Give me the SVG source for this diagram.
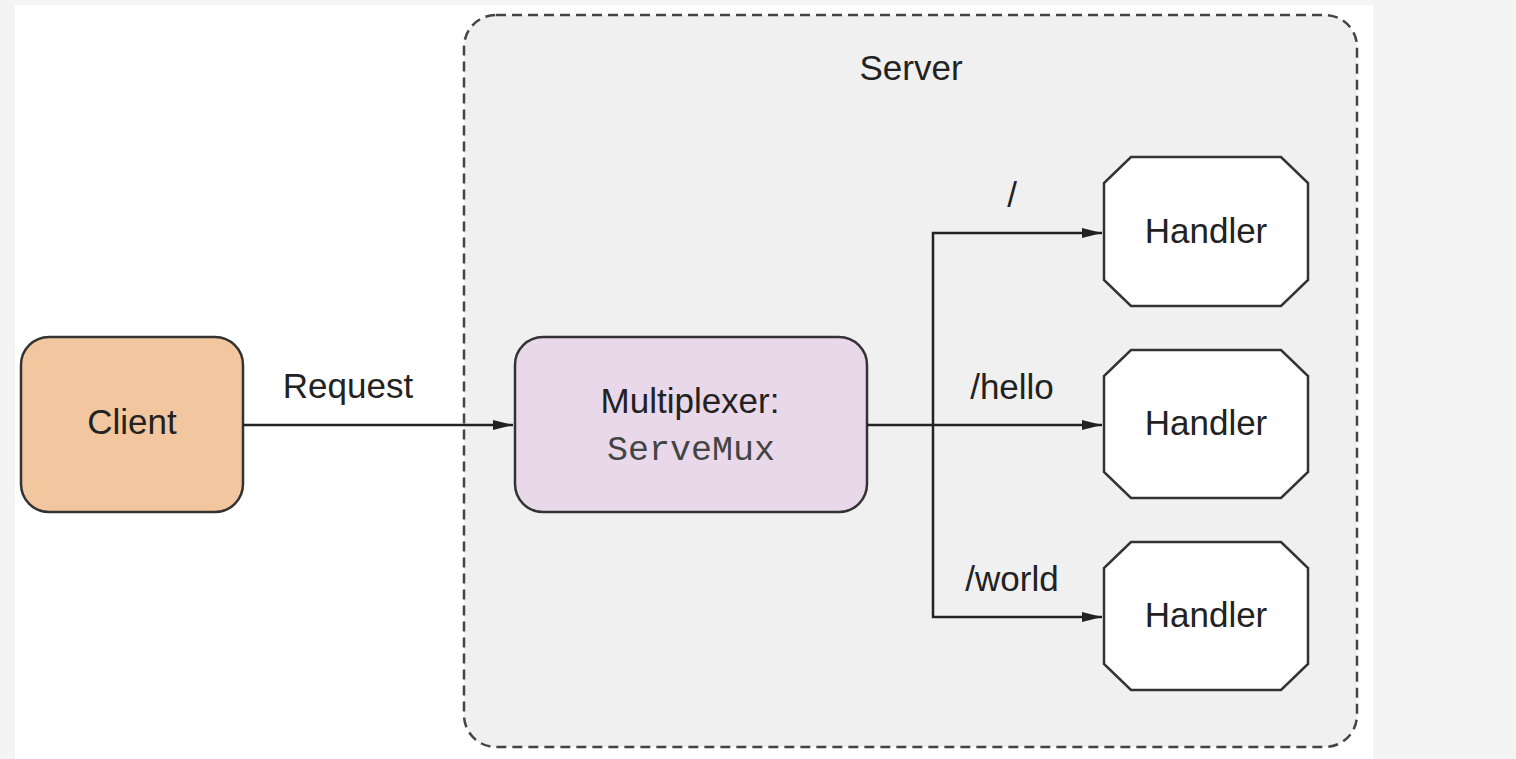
<svg xmlns="http://www.w3.org/2000/svg" width="1516" height="759" viewBox="0 0 1516 759">
  <defs>
    <marker id="arr" viewBox="0 0 20 10" refX="20" refY="5" markerWidth="20" markerHeight="10" markerUnits="userSpaceOnUse" orient="auto-start-reverse">
      <path d="M0,0 L20,5 L0,10 Z" fill="#222"/>
    </marker>
    <style>
      .t{font-family:"Liberation Sans",Arial,sans-serif;font-size:35px;fill:#222;text-anchor:middle}
      .m{font-family:"Liberation Mono","Courier New",monospace;font-size:35px;fill:#444;text-anchor:middle}
      .oct{fill:#fff;stroke:#333;stroke-width:2.5}
      .c{fill:none;stroke:#222;stroke-width:2.5;stroke-linejoin:miter}
    </style>
  </defs>
  <rect x="0" y="0" width="1516" height="759" fill="#f3f4f3"/>
  <rect x="15" y="5" width="1358" height="754" fill="#fff"/>
  <g id="server">
    <rect x="464" y="15" width="893" height="732" rx="32" fill="#f0f0f0" stroke="#444" stroke-width="2.5" stroke-dasharray="10,6"/>
    <text class="t" x="911" y="80">Server</text>
  </g>
  <g id="client">
    <rect x="21" y="337" width="222" height="175" rx="28" fill="#f2c7a0" stroke="#333" stroke-width="2.5"/>
    <text class="t" x="132" y="434">Client</text>
  </g>
  <g id="mux">
    <rect x="515" y="337" width="352" height="175" rx="28" fill="#e8d8ea" stroke="#333" stroke-width="2.5"/>
    <text class="t" x="690" y="413">Multiplexer:</text>
    <text class="m" x="691" y="460">ServeMux</text>
  </g>
  <g id="handler1">
    <polygon class="oct" points="1131,157 1281,157 1308,183 1308,280 1281,306 1131,306 1104,280 1104,183"/>
    <text class="t" x="1206" y="243">Handler</text>
  </g>
  <g id="handler2">
    <polygon class="oct" points="1131,350 1281,350 1308,376 1308,472 1281,498 1131,498 1104,472 1104,376"/>
    <text class="t" x="1206" y="435">Handler</text>
  </g>
  <g id="handler3">
    <polygon class="oct" points="1131,542 1281,542 1308,568 1308,664 1281,690 1131,690 1104,664 1104,568"/>
    <text class="t" x="1206" y="627">Handler</text>
  </g>
  <g id="connectors">
    <line class="c" x1="243" y1="425" x2="513" y2="425" marker-end="url(#arr)"/>
    <line class="c" x1="867" y1="425" x2="1102" y2="425" marker-end="url(#arr)"/>
    <path class="c" d="M1102,233 H933 V617 H1102" marker-start="url(#arr)" marker-end="url(#arr)"/>
    <text class="t" x="348" y="398">Request</text>
    <text class="t" x="1012" y="207">/</text>
    <text class="t" x="1012" y="399">/hello</text>
    <text class="t" x="1012" y="591">/world</text>
  </g>
</svg>
